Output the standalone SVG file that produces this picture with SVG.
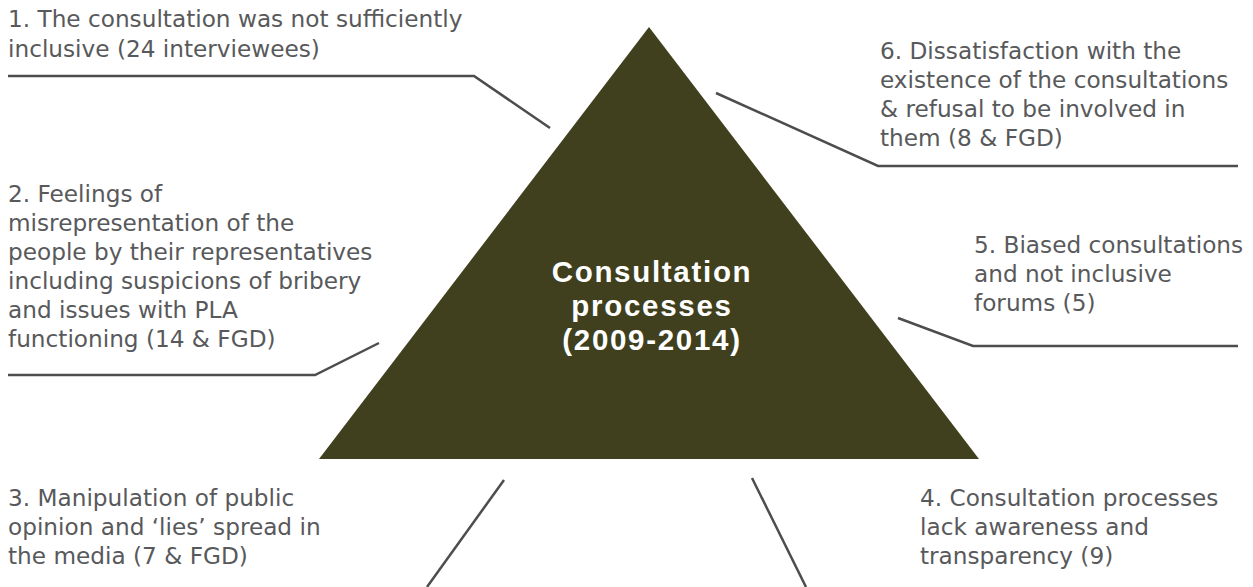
<svg xmlns="http://www.w3.org/2000/svg" width="1253" height="587" viewBox="0 0 1253 587">
<style>
.t{font-family:"DejaVu Sans","Liberation Sans",sans-serif;font-size:23.2px;fill:#58595b}
.c{font-family:"Liberation Sans","DejaVu Sans",sans-serif;font-size:29.5px;font-weight:bold;fill:#ffffff;text-anchor:middle;letter-spacing:1.7px}
.ln{fill:none;stroke:#4d4d4d;stroke-width:2.5}
</style>
<rect width="1253" height="587" fill="#ffffff"/>
<g id="center">
<polygon points="649,27 979,459 319,459" fill="#40401f"/>
<text class="c"><tspan x="652" y="282">Consultation</tspan><tspan x="652" y="316">processes</tspan><tspan x="652" y="350">(2009-2014)</tspan></text>
</g>
<g id="connectors">
<polyline class="ln" points="8,76 474,76 550,128"/>
<polyline class="ln" points="8,375 315,375 379,343"/>
<polyline class="ln" points="504,480 427,587"/>
<polyline class="ln" points="752,478 806,587"/>
<polyline class="ln" points="898,318 973,346 1238,346"/>
<polyline class="ln" points="716,93 878,166 1238,166"/>
</g>
<g id="n1"><text class="t"><tspan x="8" y="27">1. The consultation was not sufficiently</tspan><tspan x="8" y="57">inclusive (24 interviewees)</tspan></text></g>
<g id="n2"><text class="t"><tspan x="8" y="202">2. Feelings of</tspan><tspan x="8" y="231">misrepresentation of the</tspan><tspan x="8" y="260">people by their representatives</tspan><tspan x="8" y="289">including suspicions of bribery</tspan><tspan x="8" y="318">and issues with PLA</tspan><tspan x="8" y="347">functioning (14 &amp; FGD)</tspan></text></g>
<g id="n3"><text class="t"><tspan x="8" y="506">3. Manipulation of public</tspan><tspan x="8" y="535">opinion and ‘lies’ spread in</tspan><tspan x="8" y="564">the media (7 &amp; FGD)</tspan></text></g>
<g id="n4"><text class="t"><tspan x="920" y="506">4. Consultation processes</tspan><tspan x="920" y="535">lack awareness and</tspan><tspan x="920" y="564">transparency (9)</tspan></text></g>
<g id="n5"><text class="t"><tspan x="974" y="253">5. Biased consultations</tspan><tspan x="974" y="282">and not inclusive</tspan><tspan x="974" y="311">forums (5)</tspan></text></g>
<g id="n6"><text class="t"><tspan x="880" y="59">6. Dissatisfaction with the</tspan><tspan x="880" y="88">existence of the consultations</tspan><tspan x="880" y="117">&amp; refusal to be involved in</tspan><tspan x="880" y="146">them (8 &amp; FGD)</tspan></text></g>
</svg>
